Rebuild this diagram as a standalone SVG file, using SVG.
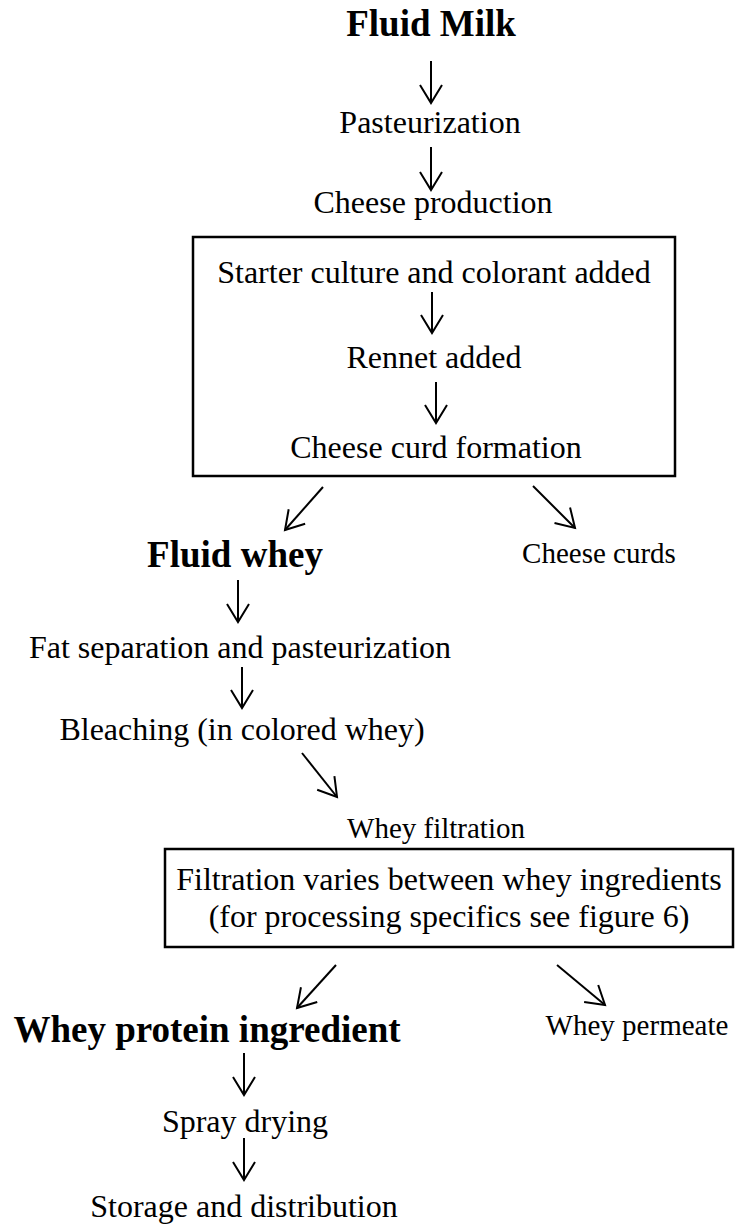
<svg xmlns="http://www.w3.org/2000/svg" width="735" height="1224" viewBox="0 0 735 1224">
<style>
text{font-family:"Liberation Serif","Times New Roman",serif;fill:#000;text-anchor:middle}
.t{font-size:32px}
.s{font-size:29px}
.b{font-size:37px;font-weight:bold}
.box{fill:none;stroke:#000;stroke-width:2.5}
.c line{stroke:#000;stroke-width:2;marker-end:url(#a)}
</style>
<defs>
<marker id="a" markerUnits="userSpaceOnUse" markerWidth="30" markerHeight="30" refX="20" refY="12" orient="auto" overflow="visible">
<path d="M2,1 L20,12 L2,23" fill="none" stroke="#000" stroke-width="2"/>
</marker>
</defs>
<g id="fluid-milk"><text class="b" x="431" y="36">Fluid Milk</text></g>
<g id="pasteurization"><text class="t" x="430" y="133">Pasteurization</text></g>
<g id="cheese-production">
<text class="t" x="433" y="213">Cheese production</text>
<rect class="box" x="193" y="237" width="482" height="239"/>
<text class="t" x="434" y="283">Starter culture and colorant added</text>
<text class="t" x="434" y="368">Rennet added</text>
<text class="t" x="436" y="458">Cheese curd formation</text>
</g>
<g id="fluid-whey"><text class="b" x="235" y="567">Fluid whey</text></g>
<g id="cheese-curds"><text class="s" x="599" y="563">Cheese curds</text></g>
<g id="fat-separation"><text class="t" x="240" y="658">Fat separation and pasteurization</text></g>
<g id="bleaching"><text class="t" x="242" y="740">Bleaching (in colored whey)</text></g>
<g id="whey-filtration">
<text class="s" x="436" y="838">Whey filtration</text>
<rect class="box" x="165" y="849" width="568" height="98"/>
<text class="t" x="449" y="890">Filtration varies between whey ingredients</text>
<text class="t" x="449" y="927">(for processing specifics see figure 6)</text>
</g>
<g id="whey-protein"><text class="b" x="207" y="1042">Whey protein ingredient</text></g>
<g id="whey-permeate"><text class="s" x="637" y="1035">Whey permeate</text></g>
<g id="spray-drying"><text class="t" x="245" y="1132">Spray drying</text></g>
<g id="storage"><text class="t" x="244" y="1217">Storage and distribution</text></g>
<g class="c" id="connectors">
<line x1="431" y1="61" x2="431" y2="103"/>
<line x1="431" y1="147" x2="431" y2="190"/>
<line x1="432" y1="292" x2="432" y2="333"/>
<line x1="436" y1="382" x2="436" y2="423"/>
<line x1="323" y1="487" x2="285" y2="530"/>
<line x1="533" y1="486" x2="575" y2="528"/>
<line x1="238" y1="580" x2="238" y2="622"/>
<line x1="242" y1="667" x2="242" y2="708"/>
<line x1="302" y1="753" x2="337" y2="797"/>
<line x1="336" y1="965" x2="297" y2="1008"/>
<line x1="557" y1="965" x2="605" y2="1005"/>
<line x1="244" y1="1053" x2="244" y2="1095"/>
<line x1="244" y1="1138" x2="244" y2="1180"/>
</g>
</svg>
